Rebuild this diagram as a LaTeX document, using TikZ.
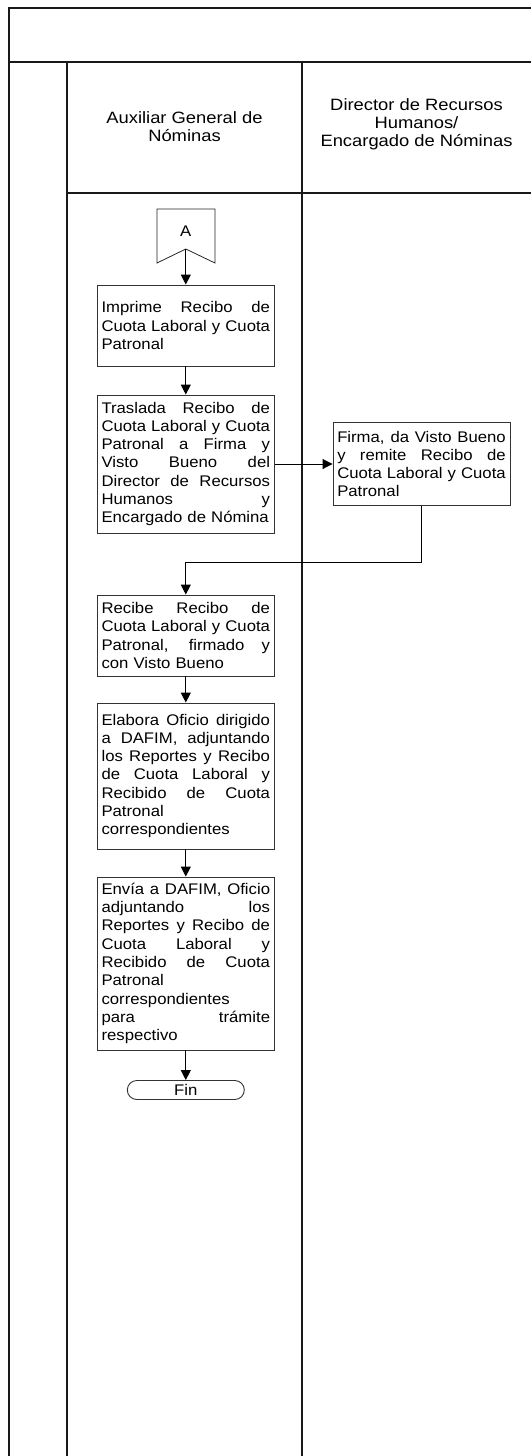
\documentclass[tikz,border=0pt]{standalone}
\usepackage{fontspec}
\setmainfont[FakeStretch=1.085]{Liberation Sans}
\newfontfamily\hdrf[FakeStretch=1.12]{Liberation Sans}
\usetikzlibrary{arrows.meta,shapes.misc}
\newlength\jw \setlength\jw{168.5pt}
\newcommand\jline[1]{\makebox[\jw][s]{\spaceskip=\fontdimen2\font plus 1fil\relax #1}\\}
\tikzset{
  lane/.style={line width=1.4pt, draw=black!90},
  ln/.style={line width=0.8pt, draw=black!85},
  proc/.style={draw=black!80, line width=0.9pt, text width=168.5pt, inner xsep=4.25pt, inner ysep=0pt,
    align=left, font=\fontsize{15.4}{18.3}\selectfont},
  hdr/.style={align=center, font=\hdrf\fontsize{16.4}{17.8}\selectfont},
  arr/.style={line width=0.9pt, draw=black, -{Triangle[length=10pt,width=10pt]}},
  term/.style={draw=black!80, line width=0.9pt, rounded rectangle, minimum width=117pt, minimum height=19pt,
    inner sep=0pt, font=\fontsize{15.4}{16}\selectfont}
}
\begin{document}
\begin{tikzpicture}[x=1pt,y=-1pt]
\useasboundingbox (0,0) rectangle (531,1456);
% swimlane frame
\draw[lane] (9,1456) -- (9,8) -- (531,8);
\draw[lane] (9,62) -- (531,62);
\draw[lane] (67,62) -- (67,1456);
\draw[lane] (302,62) -- (302,1456);
\draw[lane] (67,193) -- (531,193);
% headers
\node[hdr] (h1) at (184.5,127) {Auxiliar General de\\Nóminas};
\node[hdr] (h2) at (416.5,124.5) {Director de Recursos\\Humanos/\\Encargado de Nóminas};
% off-page connector A
\draw[ln] (157,209) -- (215,209) -- (215,263) -- (185.8,249) -- (157,263) -- cycle;
\node[font=\fontsize{15.4}{16}\selectfont] (a) at (185.8,231) {A};
\coordinate (an) at (185.8,249);
% boxes
\node[proc, minimum height=81pt] (b1) at (185.8,325.5)
  {\jline{Imprime Recibo de}\jline{Cuota Laboral y Cuota}Patronal};
\node[proc, minimum height=138pt] (b2) at (185.8,464)
  {\jline{Traslada Recibo de}\jline{Cuota Laboral y Cuota}\jline{Patronal a Firma y}\jline{Visto Bueno del}\jline{Director de Recursos}\jline{Humanos y}Encargado de Nómina};
\node[proc, minimum height=83pt] (b3) at (421.5,464)
  {\jline{Firma, da Visto Bueno}\jline{y remite Recibo de}\jline{Cuota Laboral y Cuota}Patronal};
\node[proc, minimum height=81pt] (b4) at (185.8,635.5)
  {\jline{Recibe Recibo de}\jline{Cuota Laboral y Cuota}\jline{Patronal, firmado y}con Visto Bueno};
\node[proc, minimum height=146pt] (b5) at (185.8,776)
  {\jline{Elabora Oficio dirigido}\jline{a DAFIM, adjuntando}\jline{los Reportes y Recibo}\jline{de Cuota Laboral y}\jline{Recibido de Cuota}Patronal\\correspondientes};
\node[proc, minimum height=173pt] (b6) at (185.8,963.5)
  {\jline{Envía a DAFIM, Oficio}\jline{adjuntando los}\jline{Reportes y Recibo de}\jline{Cuota Laboral y}\jline{Recibido de Cuota}Patronal\\correspondientes\\\jline{para trámite}respectivo};
\node[term] (fin) at (185.8,1090) {Fin};
% connectors
\coordinate (turn) at (185.8,562);
\draw[arr] (an) -- (b1.north);
\draw[arr] (b1.south) -- (b2.north);
\draw[arr] (b2.east) -- (b3.west);
\draw[arr] (b3.south) |- (turn) -- (b4.north);
\draw[arr] (b4.south) -- (b5.north);
\draw[arr] (b5.south) -- (b6.north);
\draw[arr] (b6.south) -- (fin.north);
\end{tikzpicture}
\end{document}
